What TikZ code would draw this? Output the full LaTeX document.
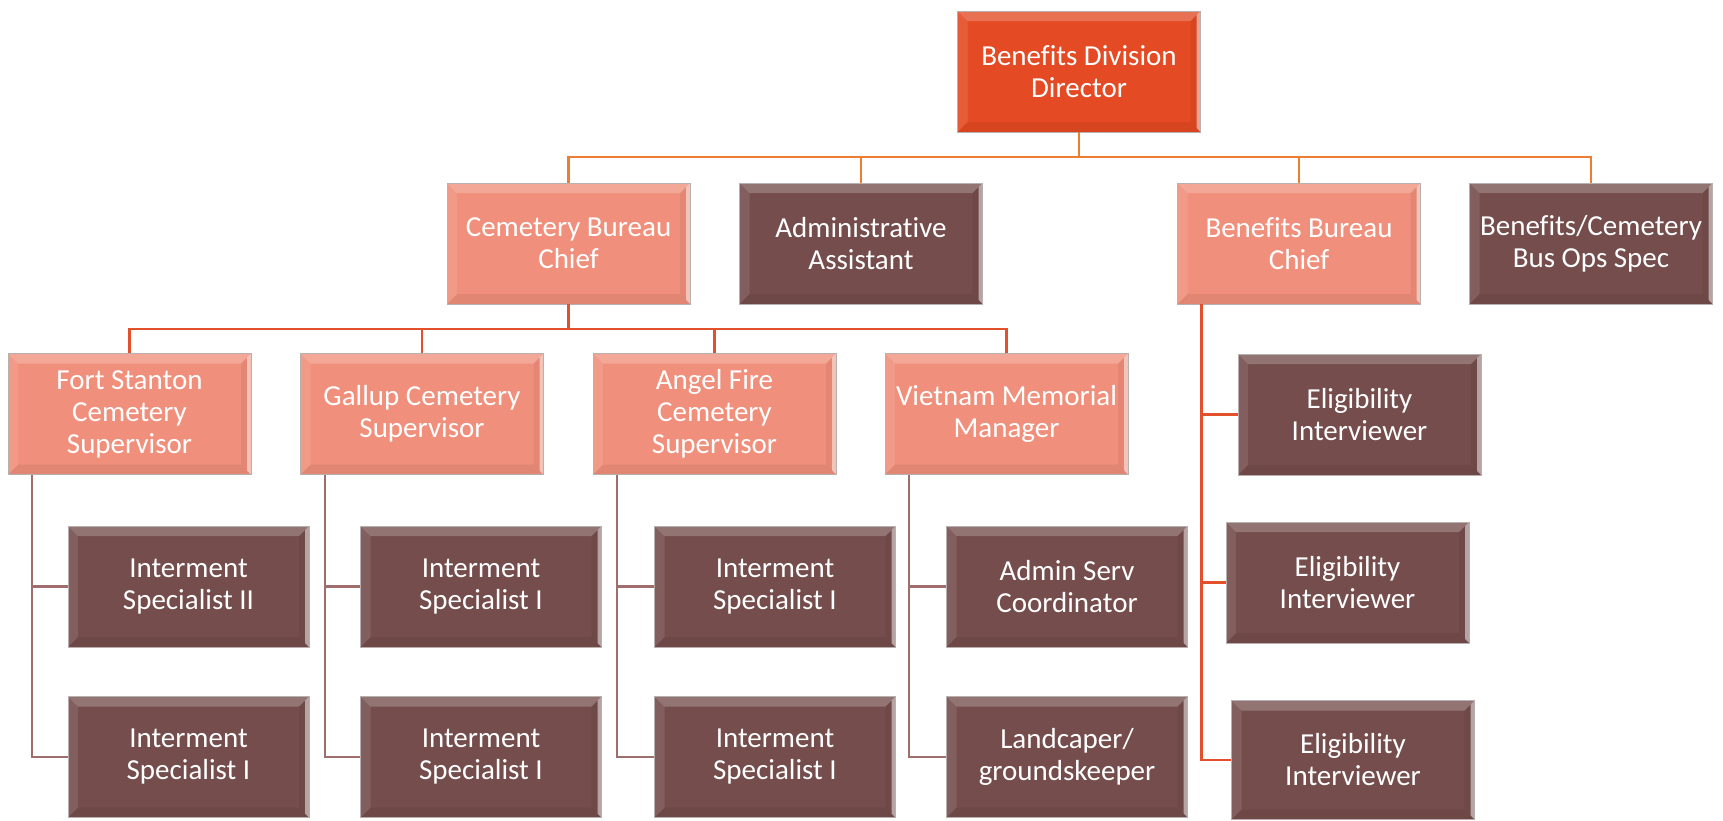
\documentclass[tikz,border=0pt]{standalone}
\usepackage{fontspec}
\setmainfont{Carlito}[Ligatures=NoCommon]
\definecolor{dirc}{HTML}{E44A23}
\definecolor{salm}{HTML}{F08F7B}
\definecolor{dark}{HTML}{744D4C}
\definecolor{topline}{HTML}{ED7D31}
\definecolor{redline}{HTML}{E2502C}
\definecolor{brownline}{HTML}{A06D6D}
\definecolor{edgegray}{HTML}{B8B0AE}
\tikzset{
  box/.style={rectangle, draw=edgegray, line width=0.8pt, inner sep=0pt,
    minimum width=243pt, minimum height=121pt, align=center, text=white,
    font=\fontsize{29}{32}\selectfont,
    path picture={
      \coordinate (nw) at (path picture bounding box.north west);
      \coordinate (ne) at (path picture bounding box.north east);
      \coordinate (sw) at (path picture bounding box.south west);
      \coordinate (se) at (path picture bounding box.south east);
      \fill[white,opacity=.22] (nw) -- (ne) -- ([xshift=-10pt,yshift=-10pt]ne) -- ([xshift=10pt,yshift=-10pt]nw) -- cycle;
      \fill[white,opacity=.10] (nw) -- ([xshift=10pt,yshift=-10pt]nw) -- ([xshift=10pt,yshift=10pt]sw) -- (sw) -- cycle;
      \fill[black,opacity=.05] (ne) -- (se) -- ([xshift=-10pt,yshift=10pt]se) -- ([xshift=-10pt,yshift=-10pt]ne) -- cycle;
      \fill[white,opacity=.5] (ne) -- (se) -- ([xshift=-4pt,yshift=4pt]se) -- ([xshift=-4pt,yshift=-4pt]ne) -- cycle;
      \fill[black,opacity=.06] (sw) -- (se) -- ([xshift=-10pt,yshift=10pt]se) -- ([xshift=10pt,yshift=10pt]sw) -- cycle;
    }},
  dirbox/.style={box, fill=dirc},
  salmbox/.style={box, fill=salm},
  darkbox/.style={box, fill=dark},
  kid/.style={darkbox, minimum width=241pt},
  topconn/.style={draw=topline, line width=2.6pt},
  redconn/.style={draw=redline, line width=2.4pt},
  brownconn/.style={draw=brownline, line width=2.2pt},
  benconn/.style={draw=redline, line width=2.4pt},
}
\begin{document}
\begin{tikzpicture}[x=1pt,y=-1pt]
\useasboundingbox (0,0) rectangle (1723,820);
% level 1
\node[dirbox] (dir) at (1079,71.5) {Benefits Division\\Director};
% level 2
\node[salmbox] (cbc) at (568.5,243.5) {Cemetery Bureau\\Chief};
\node[darkbox] (aa) at (861,243.5) {Administrative\\Assistant};
\node[salmbox] (bbc) at (1299,243.5) {Benefits Bureau\\Chief};
\node[darkbox] (bos) at (1591,243.5) {Benefits/Cemetery\\Bus Ops Spec};
% level 3
\node[salmbox] (fs) at (129.5,414) {Fort Stanton\\Cemetery\\Supervisor};
\node[salmbox] (gal) at (422,414) {Gallup Cemetery\\Supervisor};
\node[salmbox] (af) at (714.5,414) {Angel Fire\\Cemetery\\Supervisor};
\node[salmbox] (vm) at (1006.5,414) {Vietnam Memorial\\Manager};
% level 4
\node[kid] (fs1) at (188.5,586.5) {Interment\\Specialist II};
\node[kid] (fs2) at (188.5,757) {Interment\\Specialist I};
\node[kid] (gal1) at (481,586.5) {Interment\\Specialist I};
\node[kid] (gal2) at (481,757) {Interment\\Specialist I};
\node[kid] (af1) at (775,586.5) {Interment\\Specialist I};
\node[kid] (af2) at (775,757) {Interment\\Specialist I};
\node[kid] (vm1) at (1067,586.5) {Admin Serv\\Coordinator};
\node[kid] (vm2) at (1067,757) {Landcaper/\\groundskeeper};
% benefits children
\node[darkbox] (e1) at (1359.5,414.5) {Eligibility\\Interviewer};
\node[darkbox] (e2) at (1347.5,582.5) {Eligibility\\Interviewer};
\node[darkbox, minimum height=119pt] (e3) at (1353,760) {Eligibility\\Interviewer};
% connectors level 1-2
\coordinate (b1) at (1079,157);
\draw[topconn] (dir.south) -- (b1);
\draw[topconn] (cbc.north) |- (b1);
\draw[topconn] (aa.north) |- (b1);
\draw[topconn] (bbc.north) |- (b1);
\draw[topconn] (bos.north) |- (b1);
% connectors level 2-3
\coordinate (b2) at (568.5,329);
\draw[redconn] (cbc.south) -- (b2);
\draw[redconn] (fs.north) |- (b2);
\draw[redconn] (gal.north) |- (b2);
\draw[redconn] (af.north) |- (b2);
\draw[redconn] (vm.north) |- (b2);
% connectors level 3-4
\draw[brownconn] ([xshift=24pt]fs.south west) |- (fs1.west);
\draw[brownconn] ([xshift=24pt]fs.south west) |- (fs2.west);
\draw[brownconn] ([xshift=24.5pt]gal.south west) |- (gal1.west);
\draw[brownconn] ([xshift=24.5pt]gal.south west) |- (gal2.west);
\draw[brownconn] ([xshift=24.5pt]af.south west) |- (af1.west);
\draw[brownconn] ([xshift=24.5pt]af.south west) |- (af2.west);
\draw[brownconn] ([xshift=24.5pt]vm.south west) |- (vm1.west);
\draw[brownconn] ([xshift=24.5pt]vm.south west) |- (vm2.west);
% benefits chief children
\draw[benconn] ([xshift=24.5pt]bbc.south west) |- (e1.west);
\draw[benconn] ([xshift=24.5pt]bbc.south west) |- (e2.west);
\draw[benconn] ([xshift=24.5pt]bbc.south west) |- (e3.west);
\end{tikzpicture}
\end{document}
